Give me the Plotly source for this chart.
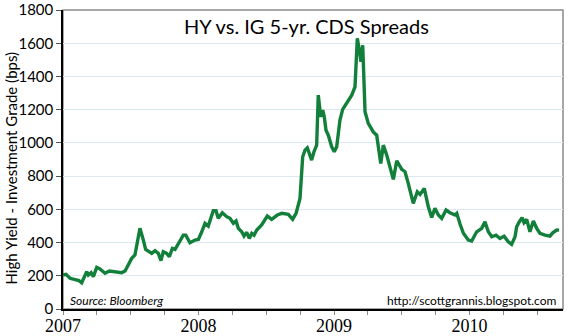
import plotly.graph_objects as go

# decimal-year positions and spread values (bps)
years = [2007.000, 2007.022, 2007.052, 2007.089, 2007.118, 2007.138, 2007.175, 2007.187, 2007.207, 2007.224,
         2007.249, 2007.273, 2007.310, 2007.342, 2007.384, 2007.433, 2007.458, 2007.487, 2007.507, 2007.531,
         2007.568, 2007.593, 2007.610, 2007.655, 2007.679, 2007.703, 2007.723, 2007.740, 2007.765, 2007.785,
         2007.807, 2007.827, 2007.856, 2007.888, 2007.906, 2007.937, 2007.974, 2007.999, 2008.024, 2008.048,
         2008.072, 2008.109, 2008.129, 2008.146, 2008.176, 2008.208, 2008.232, 2008.257, 2008.277, 2008.294,
         2008.319, 2008.336, 2008.356, 2008.375, 2008.393, 2008.410, 2008.430, 2008.466, 2008.508, 2008.540,
         2008.582, 2008.614, 2008.663, 2008.695, 2008.720, 2008.737, 2008.749, 2008.769, 2008.786, 2008.803,
         2008.818, 2008.835, 2008.852, 2008.872, 2008.884, 2008.902, 2008.917, 2008.928, 2008.941, 2008.958,
         2008.983, 2009.002, 2009.020, 2009.044, 2009.064, 2009.094, 2009.131, 2009.155, 2009.172, 2009.187,
         2009.199, 2009.212, 2009.229, 2009.253, 2009.290, 2009.315, 2009.345, 2009.364, 2009.389, 2009.438,
         2009.463, 2009.500, 2009.524, 2009.548, 2009.585, 2009.615, 2009.635, 2009.666, 2009.696, 2009.721,
         2009.745, 2009.770, 2009.795, 2009.827, 2009.856, 2009.893, 2009.906, 2009.930, 2009.955, 2009.991,
         2010.016, 2010.053, 2010.090, 2010.114, 2010.139, 2010.164, 2010.196, 2010.225, 2010.255, 2010.286,
         2010.311, 2010.336, 2010.348, 2010.368, 2010.388, 2010.402, 2010.422, 2010.446, 2010.471, 2010.496,
         2010.520, 2010.557, 2010.594, 2010.614, 2010.644, 2010.661]
spreads = [205, 209, 185, 179, 171, 158, 225, 205, 219, 195,
           251, 241, 215, 229, 223, 219, 229, 275, 305, 325,
           486, 415, 359, 335, 351, 335, 291, 345, 335, 315,
           365, 359, 405, 445, 445, 399, 415, 419, 465, 516,
           500, 592, 592, 546, 580, 556, 546, 516, 530, 486,
           465, 439, 462, 425, 456, 445, 476, 506, 560, 540,
           566, 576, 570, 540, 576, 640, 666, 917, 957, 971,
           937, 897, 947, 987, 1288, 1158, 1198, 1158, 1077, 1047,
           977, 947, 977, 1138, 1202, 1238, 1288, 1338, 1630, 1559,
           1489, 1589, 1188, 1118, 1067, 1047, 877, 987, 927, 781,
           893, 841, 827, 757, 636, 706, 690, 726, 616, 552,
           606, 566, 546, 596, 580, 566, 576, 512, 456, 415,
           409, 465, 486, 526, 465, 435, 445, 425, 439, 405,
           389, 435, 495, 526, 550, 520, 540, 465, 530, 486,
           456, 445, 439, 459, 476, 475]

year_ticks = [2007, 2008, 2009, 2010]
year_labels = ["2007", "2008", "2009", "2010"]
value_ticks = [0, 200, 400, 600, 800, 1000, 1200, 1400, 1600, 1800]

title_text = "HY vs. IG 5-yr. CDS Spreads"
y_title = "High Yield - Investment Grade (bps)"
source_text = "Source: Bloomberg"
site_text = "http://scottgrannis.blogspot.com"

FONT = "Lato"
NARROW = "Liberation Sans Narrow"

fig = go.Figure()
fig.add_trace(go.Scatter(x=years, y=spreads, mode="lines",
                         line=dict(color="#12803a", width=3.4), showlegend=False))

fig.update_layout(
    width=570, height=336,
    margin=dict(l=63, r=7, t=10, b=27),
    paper_bgcolor="white", plot_bgcolor="white",
    font=dict(family=FONT, color="black"),
    xaxis=dict(range=[2007, 2010.69], tickvals=year_ticks, ticktext=year_labels, automargin=False,
               showgrid=False, zeroline=False, showline=True, linecolor="black", linewidth=1.5,
               ticks="", tickfont=dict(size=18, family=NARROW),
               minor=dict(dtick=0.25, tick0=2007, ticks="outside", ticklen=4, tickcolor="#888", showgrid=False)),
    yaxis=dict(range=[0, 1801], tickvals=value_ticks, automargin=False, ticklabeloverflow="allow",
               showgrid=True, gridcolor="#dde9f1", gridwidth=1,
               zeroline=False, showline=True, linecolor="black", linewidth=1.5,
               ticks="outside", ticklen=5, tickcolor="#555", tickfont=dict(size=15, family=FONT)),
    shapes=[dict(type="rect", xref="paper", yref="paper", x0=0, y0=0, x1=1, y1=1,
                 line=dict(color="#8a8a8a", width=1.5), layer="below")],
    annotations=[
        dict(text=title_text, xref="paper", yref="paper", x=0.486, y=0.945, xanchor="center", yanchor="middle",
             showarrow=False, font=dict(size=20, family=FONT)),
        dict(text=y_title, xref="paper", yref="paper", x=-0.104, y=0.47, xanchor="center", yanchor="middle",
             textangle=-90, showarrow=False, font=dict(size=15, family=FONT)),
        dict(text="<i>" + source_text + "</i>", xref="paper", yref="paper", x=0.01, y=0.03,
             xanchor="left", yanchor="middle", showarrow=False, font=dict(size=12, family=FONT)),
        dict(text=site_text, xref="paper", yref="paper", x=0.99, y=0.03,
             xanchor="right", yanchor="middle", showarrow=False, font=dict(size=12, family=FONT)),
    ],
)

fig.write_html("out.html")
